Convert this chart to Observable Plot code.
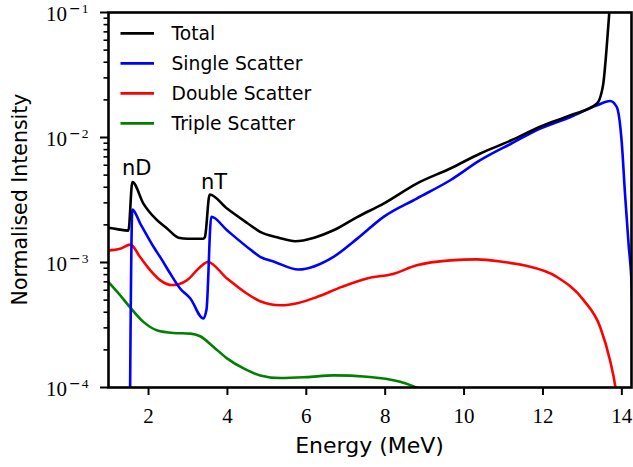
<!DOCTYPE html>
<html><head><meta charset="utf-8">
<script src="https://cdn.jsdelivr.net/npm/d3@7"></script>
<script src="https://cdn.jsdelivr.net/npm/@observablehq/plot@0.6"></script>
<style>
body{margin:0;background:#fff}
#chart{position:relative;width:633px;height:467px}
</style>
</head><body><div id="chart"></div>
<script>
// ---- data ----
const totalE = [0.98, 1.2, 1.49, 1.59, 1.87, 2.17, 2.47, 2.76, 3.0, 3.39, 3.43, 3.55, 3.99, 4.5, 4.83, 5.3, 5.72, 6.2, 6.69, 7.3, 7.96, 8.8, 9.65, 10.41, 11.2, 11.93, 12.7, 13.37, 13.49, 13.53, 13.61, 13.68, 13.75];
const totalI = [1.9e-3, 1.85e-3, 1.8e-3, 4.41e-3, 2.96e-3, 2.25e-3, 1.87e-3, 1.58e-3, 1.55e-3, 1.55e-3, 1.6e-3, 3.5e-3, 2.7e-3, 2.07e-3, 1.76e-3, 1.58e-3, 1.48e-3, 1.58e-3, 1.81e-3, 2.32e-3, 2.96e-3, 4.28e-3, 5.65e-3, 7.45e-3, 9.5e-3, 1.22e-2, 1.51e-2, 1.87e-2, 2.32e-2, 2.7e-2, 5.0e-2, 9.8e-2, 2.0e-1];

const singleE = [1.52, 1.59, 1.79, 2.13, 2.34, 2.55, 2.8, 3.06, 3.39, 3.47, 3.59, 3.99, 4.58, 4.83, 5.2, 5.8, 6.69, 7.3, 7.96, 8.8, 9.65, 10.41, 11.2, 11.93, 12.7, 13.37, 13.7, 13.87, 14.0, 14.08, 14.17, 14.25, 14.3];
const singleI = [3e-5, 2.65e-3, 2.05e-3, 1.33e-3, 1.05e-3, 8.16e-4, 6.2e-4, 5.15e-4, 3.56e-4, 4.2e-4, 2.32e-3, 1.81e-3, 1.27e-3, 1.11e-3, 1.01e-3, 8.79e-4, 1.11e-3, 1.56e-3, 2.32e-3, 3.25e-3, 4.55e-3, 6.58e-3, 8.95e-3, 1.18e-2, 1.46e-2, 1.81e-2, 1.96e-2, 1.76e-2, 8.95e-3, 3.56e-3, 1.42e-3, 6.4e-4, 2e-4];

const doubleE = [0.98, 1.28, 1.54, 1.79, 2.04, 2.3, 2.6, 2.97, 3.31, 3.5, 3.99, 4.49, 4.83, 5.34, 5.8, 6.27, 6.9, 7.54, 8.2, 8.8, 9.65, 10.32, 11.0, 11.51, 12.35, 13.03, 13.45, 13.7, 13.83, 13.95];
const doubleI = [1.25e-3, 1.29e-3, 1.39e-3, 1.10e-3, 8.7e-4, 7.2e-4, 6.6e-4, 7.2e-4, 9.2e-4, 1.01e-3, 7.45e-4, 5.65e-4, 4.9e-4, 4.55e-4, 4.75e-4, 5.3e-4, 6.38e-4, 7.45e-4, 8.1e-4, 9.5e-4, 1.04e-3, 1.06e-3, 1.01e-3, 9.5e-4, 7.67e-4, 5.0e-4, 3.05e-4, 1.65e-4, 1.04e-4, 5e-5];

const tripleE = [0.98, 1.28, 1.54, 1.87, 2.21, 2.63, 3.06, 3.31, 3.65, 3.99, 4.41, 4.83, 5.34, 6.0, 6.69, 7.54, 8.38, 8.8, 9.2];
const tripleI = [7.0e-4, 5.47e-4, 4.35e-4, 3.35e-4, 2.87e-4, 2.73e-4, 2.70e-4, 2.57e-4, 2.11e-4, 1.71e-4, 1.42e-4, 1.25e-4, 1.19e-4, 1.21e-4, 1.25e-4, 1.22e-4, 1.11e-4, 1.0e-4, 9e-5];

const seriesNames = ["Total", "Single Scatter", "Double Scatter", "Triple Scatter"];
const seriesColors = ["#000000", "#0000ff", "#ff0000", "#008000"];

const annLabels = ["nD", "nT"];
const annE = [1.70, 3.66];
const annI = [5.0e-3, 3.9e-3];

const xTicks = [2, 4, 6, 8, 10, 12, 14];
const yMajor = [1e-4, 1e-3, 1e-2, 1e-1];
const yExponents = ["4", "3", "2", "1"];
const yMinor = [];
for (const d of [1e-4, 1e-3, 1e-2]) for (let k = 2; k <= 9; k++) yMinor.push(k * d);

const xLabel = "Energy (MeV)";
const yLabel = "Normalised Intensity";

// ---- build ----
const W = 633, H = 467, mL = 108, mR = 2, mT = 12, mB = 80;
const seriesData = [[totalE, totalI], [singleE, singleI], [doubleE, doubleI], [tripleE, tripleI]]
  .map(([E, I], s) => E.map((e, i) => ({E: e, I: I[i], s})));
const annData = annLabels.map((t, i) => ({t, E: annE[i], I: annI[i]}));

const lineMarks = seriesData.slice().reverse().map(d =>
  Plot.line(d, {x: "E", y: "I", stroke: seriesColors[d[0].s], strokeWidth: 2.6, curve: "monotone-x", clip: true})
);

const plot = Plot.plot({
  width: W, height: H,
  marginLeft: mL, marginRight: mR, marginTop: mT, marginBottom: mB,
  style: {fontFamily: "Liberation Serif", fontSize: "21px", color: "#000", background: "#fff", overflow: "visible"},
  x: {domain: [0.985, 14.245]},
  y: {type: "log", domain: [1e-4, 1e-1]},
  marks: [
    ...lineMarks,
    Plot.text(annData, {x: "E", y: "I", text: "t", textAnchor: "middle", lineAnchor: "bottom", fontFamily: "DejaVu Sans", fontSize: 21, fill: "#000"}),
    Plot.axisX({ticks: xTicks, tickSize: 8, tickPadding: 13, strokeWidth: 2, label: null, fontSize: 21, fontFamily: "Liberation Serif", tickFormat: d => String(d)}),
    Plot.axisY({ticks: yMinor, tickSize: 4.5, strokeWidth: 1.6, tickFormat: () => "", label: null}),
    Plot.axisY({ticks: yMajor, tickSize: 8, strokeWidth: 2, tickFormat: () => "", label: null}),
    Plot.frame({stroke: "#000", strokeWidth: 2.6})
  ]
});
document.getElementById("chart").appendChild(plot);

const svg = d3.select(plot);
const ys = plot.scale("y");

// y tick labels with superscript exponents
const yl = svg.append("g").attr("font-family", "Liberation Serif").attr("fill", "#000");
yMajor.forEach((v, i) => {
  const t = yl.append("text")
    .attr("x", mL - 8 - 11.5)
    .attr("y", ys.apply(v) + 8.6)
    .attr("text-anchor", "end")
    .attr("font-size", 21);
  t.append("tspan").text("10");
  t.append("tspan").attr("font-family", "DejaVu Serif").attr("font-size", 14).attr("dy", -7.2).attr("dx", 2).text("\u2212");
  t.append("tspan").attr("font-size", 13.5).attr("dx", 1).text(yExponents[i]);
});

// axis labels
svg.append("text")
  .attr("x", (mL + W - mR) / 2).attr("y", 453)
  .attr("text-anchor", "middle")
  .attr("font-family", "DejaVu Sans").attr("font-size", 22).attr("fill", "#000")
  .text(xLabel);
svg.append("text")
  .attr("transform", `translate(26.5,${(mT + H - mB) / 2}) rotate(-90)`)
  .attr("text-anchor", "middle")
  .attr("font-family", "DejaVu Sans").attr("font-size", 20.5).attr("fill", "#000")
  .text(yLabel);

// legend
const lg = svg.append("g").attr("font-family", "DejaVu Sans").attr("font-size", 18.7).attr("text-anchor", "start");
seriesNames.forEach((n, i) => {
  const cy = 33.3 + i * 30;
  lg.append("line").attr("x1", 120.5).attr("x2", 154).attr("y1", cy).attr("y2", cy)
    .attr("stroke", seriesColors[i]).attr("stroke-width", 2.7);
  lg.append("text").attr("x", 171.5).attr("y", cy + 6.8).attr("fill", "#000").attr("text-anchor", "start").text(n);
});
</script>
</body></html>
